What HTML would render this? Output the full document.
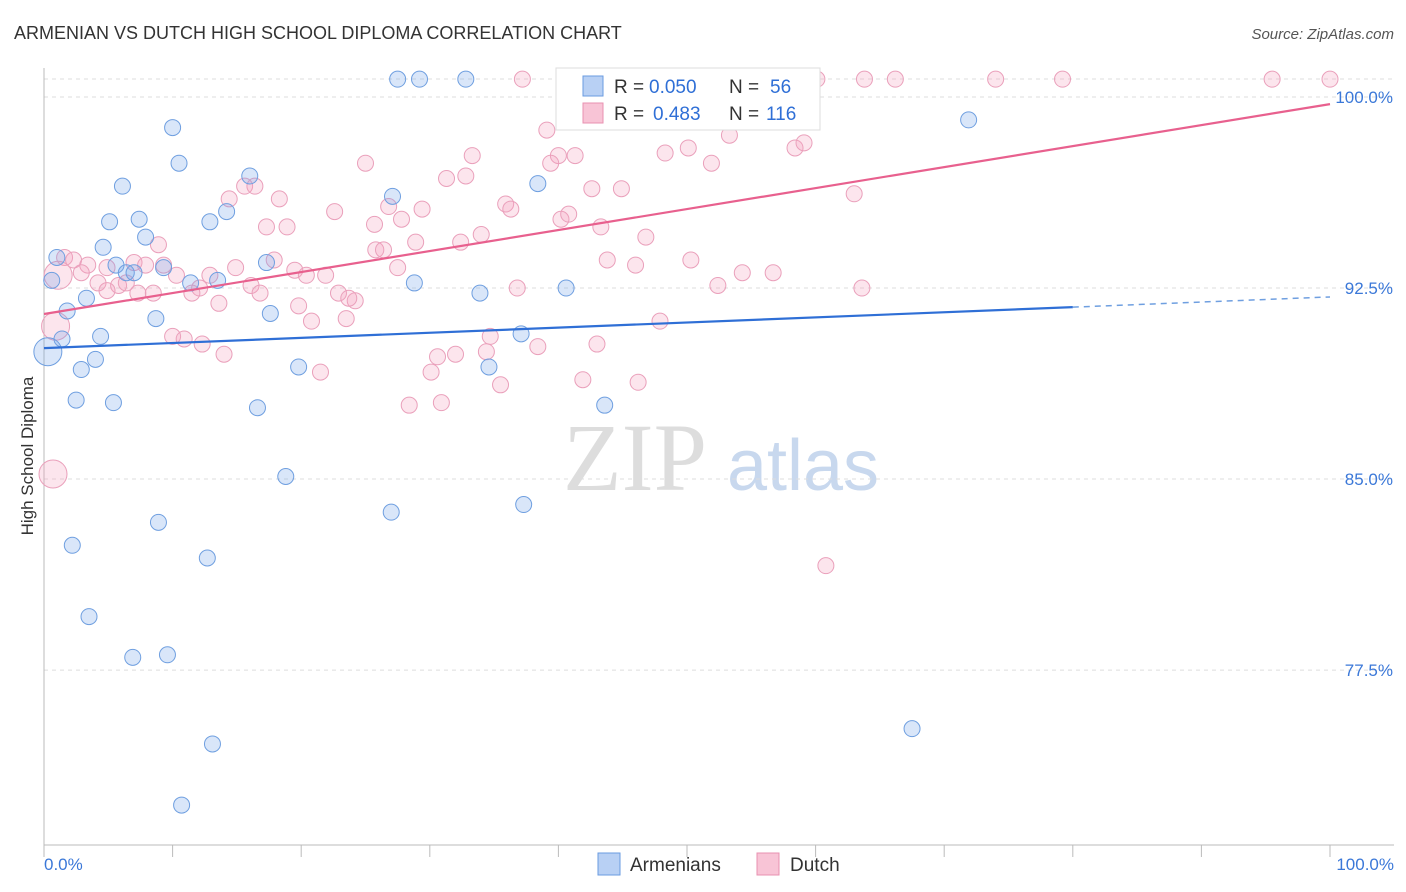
<!DOCTYPE html>
<html><head><meta charset="utf-8">
<style>
body{margin:0;background:#fff;font-family:"Liberation Sans",sans-serif;}
svg{display:block}
</style></head>
<body>
<svg id="chart" width="1406" height="892">
<text x="14" y="39" font-size="18" fill="#333">ARMENIAN VS DUTCH HIGH SCHOOL DIPLOMA CORRELATION CHART</text>
<text x="1394" y="39" font-size="15" fill="#555" text-anchor="end" font-style="italic">Source: ZipAtlas.com</text>
<text transform="translate(33,456) rotate(-90)" font-size="17" fill="#333" text-anchor="middle">High School Diploma</text>
<g>
<text x="635" y="490" font-size="96" fill="#ddd" font-family="Liberation Serif,serif" text-anchor="middle">ZIP</text>
<text x="803" y="490" font-size="72" fill="#c8d8ee" text-anchor="middle">atlas</text>
</g>
<g id="grid"></g>
<g id="axes"></g>
<g id="marks"></g>
<g>
<rect x="556" y="68" width="264" height="62" fill="#fff" stroke="#ddd"/>
<rect x="583" y="76" width="20" height="20" fill="#b8d0f4" stroke="#6a9be0"/>
<text x="614" y="93" font-size="19" fill="#333">R =</text>
<text x="649" y="93" font-size="19" fill="#2f6fd6">0.050</text>
<text x="729" y="93" font-size="19" fill="#333">N =</text>
<text x="770" y="93" font-size="19" fill="#2f6fd6">56</text>
<rect x="583" y="103" width="20" height="20" fill="#f8c4d6" stroke="#e891b0"/>
<text x="614" y="120" font-size="19" fill="#333">R =</text>
<text x="653" y="120" font-size="19" fill="#2f6fd6">0.483</text>
<text x="729" y="120" font-size="19" fill="#333">N =</text>
<text x="766" y="120" font-size="19" fill="#2f6fd6">116</text>
</g>
<g>
<rect x="598" y="853" width="22" height="22" fill="#b8d0f4" stroke="#6a9be0"/>
<text x="630" y="871" font-size="19" fill="#333">Armenians</text>
<rect x="757" y="853" width="22" height="22" fill="#f8c4d6" stroke="#e891b0"/>
<text x="790" y="871" font-size="19" fill="#333">Dutch</text>
</g>
</svg>
<script>
const yTicks=[100,92.5,85,77.5];
const yTickLabels=["100.0%","92.5%","85.0%","77.5%"];
const blueX=[27.5,29.2,32.8,10.0,10.5,6.1,16.0,27.1,38.4,71.9,5.1,7.4,14.2,12.9,7.9,4.6,1.0,0.6,5.6,6.4,7.0,9.3,17.3,11.4,13.5,28.8,33.9,40.6,3.3,1.8,8.7,17.6,4.4,1.4,37.1,0.3,4.0,2.9,19.8,34.6,2.5,5.4,16.6,43.6,18.8,27.0,37.3,8.9,2.2,12.7,3.5,6.9,9.6,13.1,67.5,10.7];
const blueY=[100.7,100.7,100.7,98.8,97.4,96.5,96.9,96.1,96.6,99.1,95.1,95.2,95.5,95.1,94.5,94.1,93.7,92.8,93.4,93.1,93.1,93.3,93.5,92.7,92.8,92.7,92.3,92.5,92.1,91.6,91.3,91.5,90.6,90.5,90.7,90.0,89.7,89.3,89.4,89.4,88.1,88.0,87.8,87.9,85.1,83.7,84.0,83.3,82.4,81.9,79.6,78.0,78.1,74.6,75.2,72.2];
const pinkX=[37.2,51.2,60.1,63.8,66.2,74.0,79.2,95.5,100,53.0,39.1,53.3,40.0,41.3,33.3,48.3,50.1,51.9,58.4,59.1,25.0,39.4,31.3,32.8,42.6,44.9,63.0,15.6,16.4,14.4,18.3,35.9,22.6,26.8,27.8,29.4,36.3,40.2,40.8,17.3,18.9,25.7,34.0,43.3,46.8,8.9,28.9,32.4,25.8,26.4,1.6,2.3,3.4,7.0,7.9,9.3,17.9,14.9,2.9,27.5,43.8,46.0,50.3,54.3,56.7,19.5,20.4,21.9,12.9,10.3,4.2,5.8,6.4,4.9,7.3,8.5,12.1,11.5,16.1,16.8,22.9,24.2,23.7,52.4,63.6,36.8,13.6,19.8,20.8,23.5,47.9,10.0,10.9,12.3,34.7,43.0,38.4,32.0,30.6,34.4,14.0,21.5,30.1,35.5,41.9,46.2,28.4,30.9,60.8,0.7,0.9,1.1,4.9];
const pinkY=[100.7,100.7,100.7,100.7,100.7,100.7,100.7,100.7,100.7,99.4,98.7,98.5,97.7,97.7,97.7,97.8,98.0,97.4,98.0,98.2,97.4,97.4,96.8,96.9,96.4,96.4,96.2,96.5,96.5,96.0,96.0,95.8,95.5,95.7,95.2,95.6,95.6,95.2,95.4,94.9,94.9,95.0,94.6,94.9,94.5,94.2,94.3,94.3,94.0,94.0,93.7,93.6,93.4,93.5,93.4,93.4,93.6,93.3,93.1,93.3,93.6,93.4,93.6,93.1,93.1,93.2,93.0,93.0,93.0,93.0,92.7,92.6,92.7,92.4,92.3,92.3,92.5,92.3,92.6,92.3,92.3,92.0,92.1,92.6,92.5,92.5,91.9,91.8,91.2,91.3,91.2,90.6,90.5,90.3,90.6,90.3,90.2,89.9,89.8,90.0,89.9,89.2,89.2,88.7,88.9,88.8,87.9,88.0,81.6,85.2,91.0,93.0,93.3];
const pinkBig=[0.7,0.9,1.1];
const blueTrend=[90.14,91.75,92.15]; // at x=0,80,100
const pinkTrend=[91.48,99.72]; // at x=0,100
const X=v=>44+v*12.86;
const Y=v=>97+(100-v)*25.47;
const NS="http://www.w3.org/2000/svg";
function mk(tag,attrs,parent){const e=document.createElementNS(NS,tag);for(const k in attrs)e.setAttribute(k,attrs[k]);parent.appendChild(e);return e;}
const grid=document.getElementById('grid'),axes=document.getElementById('axes'),marks=document.getElementById('marks');
mk('line',{x1:44,x2:1394,y1:79,y2:79,stroke:'#ddd','stroke-dasharray':'4,4'},grid);
yTicks.forEach((t,i)=>{
 const l=mk('line',{x1:44,x2:1394,y1:Y(t),y2:Y(t),stroke:'#ddd','stroke-dasharray':'4,4'},grid);
 
 
 const tx=mk('text',{x:1393,y:Y(t)+6,'font-size':17,fill:'#3b78d8','text-anchor':'end'},axes);
 tx.textContent=yTickLabels[i];
 
 
});
mk('line',{x1:44,x2:44,y1:68,y2:845,stroke:'#bbb'},axes);
mk('line',{x1:44,x2:1394,y1:845,y2:845,stroke:'#bbb'},axes);
for(let i=0;i<=10;i++){const t=mk('line',{x1:X(i*10),x2:X(i*10),y1:845,y2:857,stroke:'#bbb'},axes);
 
 }
const xl=mk('text',{x:44,y:870,'font-size':17,fill:'#3b78d8'},axes);xl.textContent='0.0%';


const xr=mk('text',{x:1394,y:870,'font-size':17,fill:'#3b78d8','text-anchor':'end'},axes);xr.textContent='100.0%';


pinkX.forEach((x,i)=>{const big=pinkBig.includes(x);
 const c=mk('circle',{cx:X(x),cy:Y(pinkY[i]),r:big?14:8,fill:'rgba(244,160,190,0.28)',stroke:'#eaa0bb','stroke-width':1},marks);
 
 });
blueX.forEach((x,i)=>{const big=x<0.5;
 const c=mk('circle',{cx:X(x),cy:Y(blueY[i]),r:big?14:8,fill:'rgba(120,165,235,0.28)',stroke:'#6f9fe0','stroke-width':1},marks);
 
 });
const bl=mk('line',{x1:X(0),y1:Y(blueTrend[0]),x2:X(80),y2:Y(blueTrend[1]),stroke:'#2f6fd6','stroke-width':2.2},marks);


const bd=mk('line',{x1:X(80),y1:Y(blueTrend[1]),x2:X(100),y2:Y(blueTrend[2]),stroke:'#6f9fe0','stroke-width':1.5,'stroke-dasharray':'6,5'},marks);


const pl=mk('line',{x1:X(0),y1:Y(pinkTrend[0]),x2:X(100),y2:Y(pinkTrend[1]),stroke:'#e8608e','stroke-width':2.2},marks);


</script>
</body></html>
